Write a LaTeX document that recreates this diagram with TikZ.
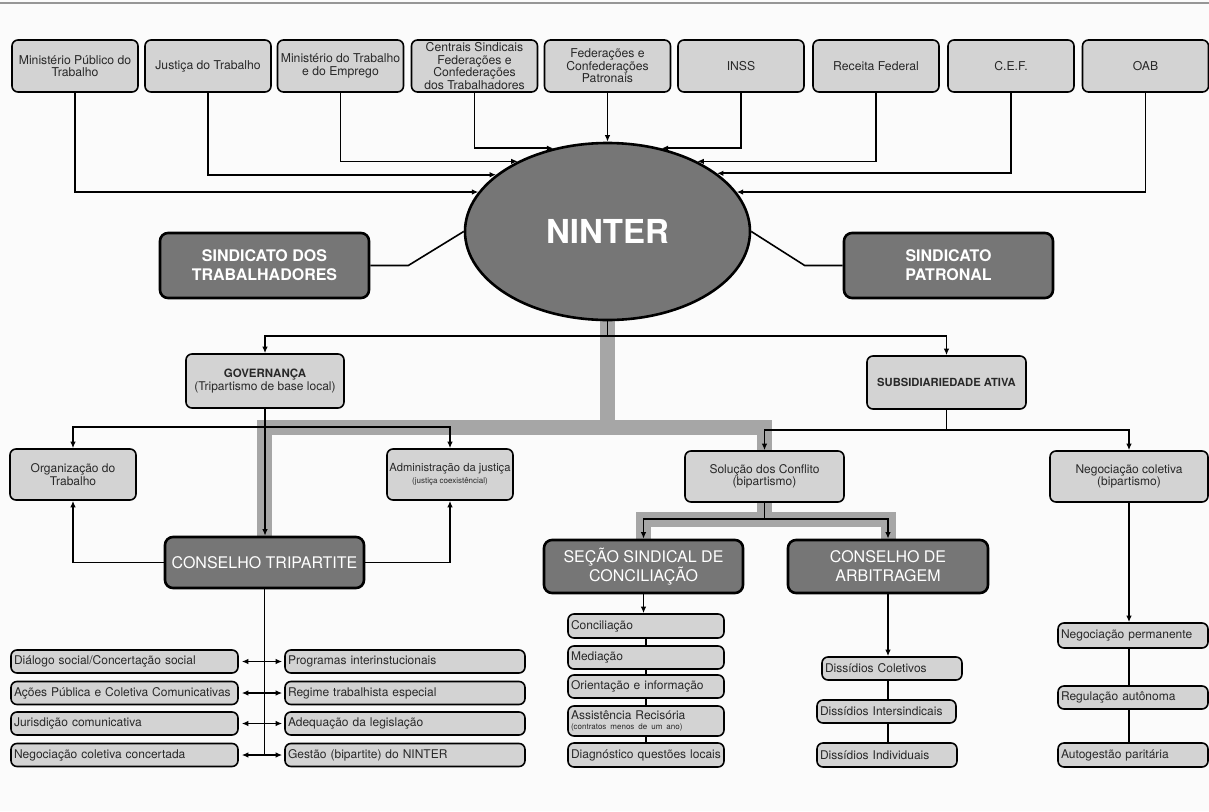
\documentclass[tikz,border=0pt]{standalone}
\usepackage{fontspec}
\setmainfont{TeX Gyre Heros}
\usetikzlibrary{arrows.meta,shapes.geometric,backgrounds}
\definecolor{bgc}{RGB}{251,251,251}
\definecolor{lboxc}{RGB}{211,211,211}
\definecolor{dboxc}{RGB}{118,118,118}
\definecolor{barc}{RGB}{166,166,166}
\definecolor{toplinec}{RGB}{150,150,150}
\definecolor{txtc}{RGB}{40,40,40}
\begin{document}
\begin{tikzpicture}[x=1pt,y=-1pt,
 every node/.style={inner sep=1pt},
 lb/.style={draw=black, fill=lboxc, line width=1.6pt, rounded corners=6pt, align=center, text=txtc, font=\fontsize{12}{12.5}\selectfont},
 topbox/.style={lb, minimum width=126pt, minimum height=52pt, font=\fontsize{12.2}{12.4}\selectfont},
 db/.style={draw=black, fill=dboxc, line width=2.6pt, rounded corners=8pt, align=center, text=white, font=\fontsize{16}{19}\selectfont},
 listbox/.style={lb, align=left, inner xsep=3pt, inner ysep=0pt, minimum height=23pt, text width=#1},
 conn/.style={line width=1.6pt},
 arr/.style={conn, -{Latex[length=6.5pt,width=5.5pt]}},
 biarr/.style={conn, {Latex[length=6.5pt,width=5.5pt]}-{Latex[length=6.5pt,width=5.5pt]}, shorten <=3pt, shorten >=2pt},
 gbar/.style={draw=barc, line width=15pt},
]
\useasboundingbox (0,0) rectangle (1209,811);

% top row
\node[topbox] (mpt) at (75,66) {Ministério Público do\\Trabalho};
\node[topbox] (jt) at (208,66) {Justiça do Trabalho};
\node[topbox] (mte) at (340.5,66) {Ministério do Trabalho\\e do Emprego};
\node[topbox] (cst) at (474.5,66) {Centrais Sindicais\\Federações e\\Confederações\\dos Trabalhadores};
\node[topbox] (fcp) at (607.5,66) {Federações e\\Confederações\\Patronais};
\node[topbox] (inss) at (741,66) {INSS};
\node[topbox] (rf) at (876,66) {Receita Federal};
\node[topbox] (cef) at (1011,66) {C.E.F.};
\node[topbox] (oab) at (1145.5,66) {OAB};

% center
\node[ellipse, draw=black, line width=2.6pt, fill=dboxc, minimum width=285pt, minimum height=177pt, inner sep=0pt, text=white, font=\fontsize{33}{36}\selectfont\bfseries] (nint) at (607.5,231.5) {\raisebox{-5pt}{NINTER}};
\node[db, font=\fontsize{16}{19}\selectfont\bfseries, minimum width=209pt, minimum height=65pt] (st) at (264.5,265.5) {SINDICATO DOS\\TRABALHADORES};
\node[db, font=\fontsize{16}{19}\selectfont\bfseries, minimum width=209pt, minimum height=65pt] (sp) at (948.5,265.5) {SINDICATO\\PATRONAL};

% second level
\node[lb, minimum width=158pt, minimum height=54pt] (gov) at (265,381) {{\fontsize{11.5}{13}\selectfont\bfseries GOVERNANÇA}\\(Tripartismo de base local)};
\node[lb, minimum width=159pt, minimum height=53pt, font=\fontsize{11.2}{13}\selectfont\bfseries] (sub) at (946.5,382.5) {SUBSIDIARIEDADE ATIVA};

% third level
\node[lb, minimum width=126pt, minimum height=51pt] (org) at (73,474.5) {Organização do\\Trabalho};
\node[lb, minimum width=126pt, minimum height=51pt, font=\fontsize{11.2}{12.5}\selectfont] (adm) at (450,474.5) {Administração da justiça\\{\fontsize{8}{9}\selectfont(justiça coexistêncial)}};
\node[lb, minimum width=159pt, minimum height=51pt] (sol) at (764.5,476.5) {Solução dos Conflito\\(bipartismo)};
\node[lb, minimum width=158pt, minimum height=51pt] (neg) at (1129,476.5) {Negociação coletiva\\(bipartismo)};

% councils
\node[db, minimum width=199pt, minimum height=51pt] (ct) at (264.5,562.5) {CONSELHO TRIPARTITE};
\node[db, minimum width=199pt, minimum height=53pt] (sec) at (643.5,566.5) {SEÇÃO SINDICAL DE\\CONCILIAÇÃO};
\node[db, minimum width=200pt, minimum height=53pt] (arb) at (888,566.5) {CONSELHO DE\\ARBITRAGEM};

% left lists
\node[listbox=221pt] (l1) at (124.5,661.5) {Diálogo social/Concertação social};
\node[listbox=221pt] (l2) at (124.5,693) {Ações Pública e Coletiva Comunicativas};
\node[listbox=221pt] (l3) at (124.5,723.5) {Jurisdição comunicativa};
\node[listbox=221pt] (l4) at (124.5,755) {Negociação coletiva concertada};
\node[listbox=234pt] (r1) at (405,661.5) {Programas interinstucionais};
\node[listbox=234pt] (r2) at (405,693) {Regime trabalhista especial};
\node[listbox=234pt] (r3) at (405,723.5) {Adequação da legislação};
\node[listbox=234pt] (r4) at (405,755) {Gestão (bipartite) do NINTER};

% conciliation list
\node[listbox=150pt, minimum height=24pt] (c1) at (646,626) {Conciliação};
\node[listbox=150pt] (c2) at (646,657.5) {Mediação};
\node[listbox=150pt] (c3) at (646,686.5) {Orientação e informação};
\node[listbox=150pt, minimum height=30pt] (c4) at (646,721) {Assistência Recisória\\[-2pt]{\fontsize{8}{8.5}\selectfont(contratos menos de um ano)}};
\node[listbox=150pt, minimum height=24pt] (c5) at (646,755) {Diagnóstico questões locais};

% arbitration list
\node[listbox=134pt] (d1) at (892,668.5) {Dissídios Coletivos};
\node[listbox=133pt] (d2) at (886.5,711.5) {Dissídios Intersindicais};
\node[listbox=134pt, minimum height=24pt] (d3) at (887,755) {Dissídios Individuais};

% negotiation list
\node[listbox=144pt, minimum height=25pt] (n1) at (1133,635.5) {Negociação permanente};
\node[listbox=144pt] (n2) at (1133,697.5) {Regulação autônoma};
\node[listbox=144pt, minimum height=24pt] (n3) at (1133,755) {Autogestão paritária};

\begin{pgfonlayer}{background}
\fill[bgc] (0,0) rectangle (1209,811);
\draw[toplinec, line width=1.5pt] (0,3) -- (1209,3);

% grey highlight path
\coordinate (g1) at (607.5,427);
\coordinate (j3) at (764.5,519);
\draw[gbar] (nint.south) -- (g1);
\draw[gbar] (ct.north) -- (ct.north |- g1) -- (sol.north |- g1) -- (sol.north);
\draw[gbar] (sol.south) -- (j3);
\draw[gbar] (sec.north) -- (sec.north |- j3) -- (arb.north |- j3) -- (arb.north);

% top connectors
\draw[arr] (mpt.south) |- (nint.163);
\draw[arr] (jt.south) |- (nint.153);
\draw[arr] (mte.south) |- (nint.142);
\draw[arr] (cst.south) |- (nint.123);
\draw[arr] (fcp.south) -- (nint.north);
\draw[arr] (inss.south) |- (nint.57);
\draw[arr] (rf.south) |- (nint.38);
\draw[arr] (cef.south) |- (nint.28);
\draw[arr] (oab.south) |- (nint.17);

% unions
\draw[conn] (st.east) -- ++(38,0) -- (nint.west);
\draw[conn] (sp.west) -- ++(-38,0) -- (nint.east);

% below ellipse
\coordinate (j1) at (607.5,336);
\draw[conn] (nint.south) -- (j1);
\draw[arr] (j1) -| (gov.north);
\draw[arr] (j1) -| (sub.north);

\coordinate (j2) at (265,427);
\draw[arr] (gov.south) -- (gov.south |- ct.north);
\draw[arr] (j2) -| (org.north);
\draw[arr] (j2) -| (adm.north);
\draw[arr] (ct.west) -| (org.south);
\draw[arr] (ct.east) -| (adm.south);

\coordinate (j4) at (946.5,430);
\draw[conn] (sub.south) -- (j4);
\draw[arr] (j4) -| (sol.north);
\draw[arr] (j4) -| (neg.north);

\draw[conn] (sol.south) -- (j3);
\draw[arr] (j3) -| (sec.north);
\draw[arr] (j3) -| (arb.north);

% tripartite lists
\draw[conn] (ct.south) -- (ct.south |- l4.east);
\draw[biarr] (l1.east) -- (r1.west);
\draw[biarr] (l2.east) -- (r2.west);
\draw[biarr] (l3.east) -- (r3.west);
\draw[biarr] (l4.east) -- (r4.west);

% conciliation chain
\draw[arr] (sec.south) -- (sec.south |- c1.north);
\draw[conn] (c1.south) -- (c2.north);
\draw[conn] (c2.south) -- (c3.north);
\draw[conn] (c3.south) -- (c4.north);
\draw[conn] (c4.south) -- (c5.north);

% arbitration chain
\draw[arr] (arb.south) -- (arb.south |- d1.north);
\draw[conn] (d1.south -| arb.south) -- (d2.north -| arb.south);
\draw[conn] (d2.south -| arb.south) -- (d3.north -| arb.south);

% negotiation chain
\draw[arr] (neg.south) -- (neg.south |- n1.north);
\draw[conn] (n1.south -| neg.south) -- (n2.north -| neg.south);
\draw[conn] (n2.south -| neg.south) -- (n3.north -| neg.south);
\end{pgfonlayer}
\end{tikzpicture}
\end{document}
